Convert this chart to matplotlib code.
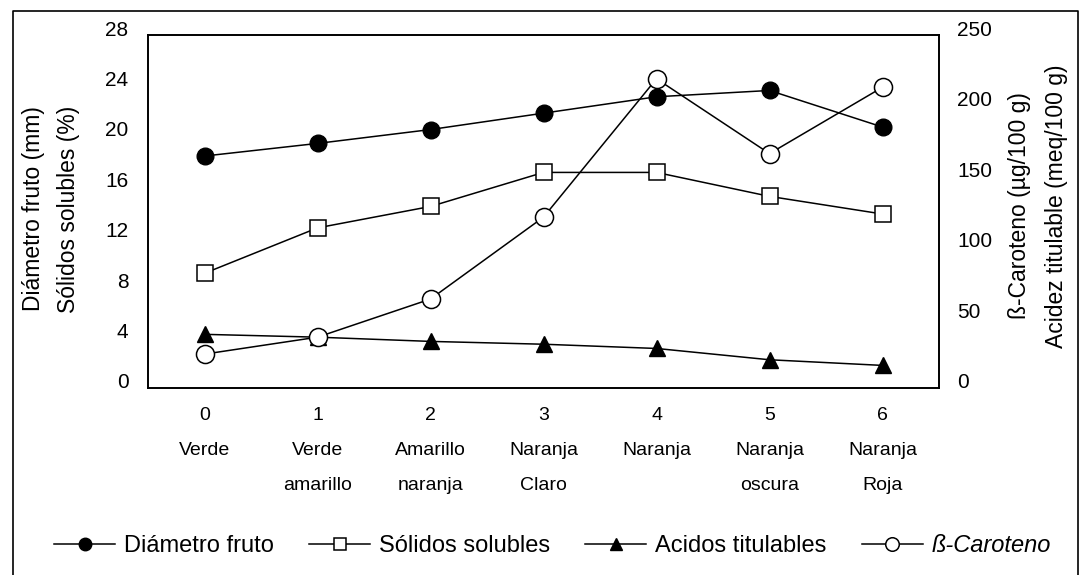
import matplotlib.pyplot as plt
from matplotlib.lines import Line2D
from matplotlib.transforms import ScaledTranslation

plt.rcParams['font.family'] = ['Liberation Sans', 'DejaVu Sans']

# estados de madurez
x = [0, 1, 2, 3, 4, 5, 6]
etapas = ['0\nVerde', '1\nVerde\namarillo', '2\nAmarillo\nnaranja', '3\nNaranja\nClaro',
          '4\nNaranja', '5\nNaranja\noscura', '6\nNaranja\nRoja']

# eje izquierdo
diametro = [18.4, 19.4, 20.5, 21.8, 23.1, 23.6, 20.7]
solidos = [9.1, 12.7, 14.4, 17.1, 17.1, 15.2, 13.8]
# eje derecho
acidez = [38, 36, 33, 31, 28, 20, 16]
caroteno = [24, 36, 63, 121, 219, 166, 213]

y_izq = [0, 4, 8, 12, 16, 20, 24, 28]
y_der = [0, 50, 100, 150, 200, 250]

fig = plt.figure(figsize=(10.85, 5.75), dpi=100)
ax = fig.add_axes([148/1085, 1-388/575, (939-148)/1085, (388-35)/575])
ax2 = ax.twinx()

l1, = ax.plot(x, diametro, color='black', lw=1.1, marker='o', ms=12, mfc='black', mec='black', zorder=3)
l2, = ax.plot(x, solidos, color='black', lw=1.1, marker='s', ms=11, mfc='white', mec='black', mew=1.1, zorder=3)
l3, = ax2.plot(x, acidez, color='black', lw=1.1, marker='^', ms=12, mfc='black', mec='black', zorder=3)
l4, = ax2.plot(x, caroteno, color='black', lw=1.1, marker='o', ms=13, mfc='white', mec='black', mew=1.1, zorder=4)

ax.set_xlim(-0.5, 6.5)
ax.set_ylim(0, 28)
ax2.set_ylim(0, 250)
ax.set_xticks(x, etapas)
ax.set_yticks(y_izq)
ax2.set_yticks(y_der)

ax.tick_params(axis='y', length=0, pad=14, labelsize=15)
ax.tick_params(axis='x', length=0, pad=14, labelsize=14)
ax2.tick_params(axis='y', length=0, pad=13, labelsize=15)
for lab in ax.get_xticklabels():
    lab.set_linespacing(2.35)

# etiquetas de los ejes y un poco por encima de la posición
off = ScaledTranslation(0, 7/100, fig.dpi_scale_trans)
for lab in ax.get_yticklabels() + ax2.get_yticklabels():
    lab.set_transform(lab.get_transform() + off)

for a in [ax, ax2]:
    for s in a.spines.values():
        s.set_linewidth(1.2)

fig.text(51/1085, 1-209/575, 'Diámetro fruto (mm)\nSólidos solubles (%)', rotation=90,
         ha='center', va='center', fontsize=16.5, linespacing=1.65)
fig.text(1038/1085, 1-206/575, 'ß-Caroteno (µg/100 g)\nAcidez titulable (meq/100 g)', rotation=90,
         ha='center', va='center', fontsize=16.5, linespacing=1.75)

leg = fig.legend([l1, l2, l3, l4], ['Diámetro fruto', 'Sólidos solubles', 'Acidos titulables', 'ß-Caroteno'],
                 loc='center', bbox_to_anchor=(0.509, 1-546/575), ncol=4, frameon=False,
                 fontsize=17, handlelength=2.6, handletextpad=0.35, columnspacing=1.5, markerscale=0.75)
leg.get_texts()[3].set_fontstyle('italic')

# marco exterior
fig.add_artist(Line2D([13/1085, 13/1085, 1078/1085, 1078/1085], [0, 1-11/575, 1-11/575, 0],
                      color='black', lw=1.2, transform=fig.transFigure))

plt.savefig('out.png', dpi=100)
